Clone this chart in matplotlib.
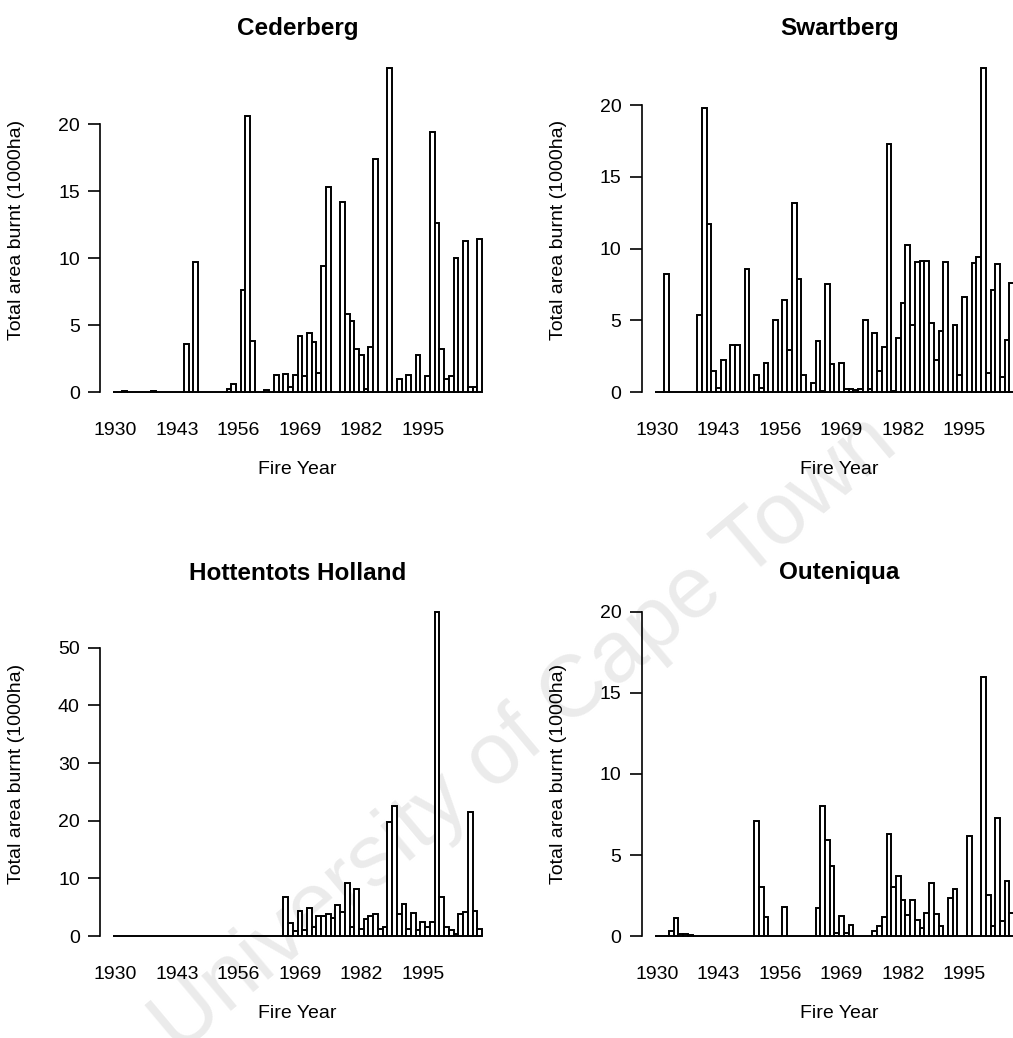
import matplotlib
matplotlib.use('Agg')
from matplotlib import pyplot as plt

plt.rcParams['font.family'] = ['Liberation Sans', 'DejaVu Sans']

years = list(range(1930, 2008))
label_years = [1930, 1943, 1956, 1969, 1982, 1995]

# area burnt per fire year, 1000 ha (1930 ... 2007)
cederberg = [
    0, 0, 0.08, 0, 0, 0, 0, 0, 0.1, 0,
    0, 0, 0, 0, 0, 3.6, 0, 9.7, 0, 0,
    0, 0, 0, 0, 0.25, 0.6, 0, 7.6, 20.6, 3.8,
    0, 0, 0.15, 0, 1.25, 0, 1.35, 0.4, 1.25, 4.2,
    1.2, 4.4, 3.7, 1.45, 9.4, 15.3, 0, 0, 14.2, 5.8,
    5.3, 3.2, 2.75, 0.2, 3.4, 17.4, 0, 0, 24.2, 0,
    0.95, 0, 1.3, 0, 2.8, 0, 1.2, 19.4, 12.6, 3.2,
    0.95, 1.2, 10.0, 0, 11.3, 0.35, 0.35, 11.4]

swartberg = [
    0, 0, 8.2, 0, 0, 0, 0, 0, 0, 5.4,
    19.8, 11.7, 1.5, 0.25, 2.25, 0, 3.25, 3.3, 0, 8.6,
    0, 1.2, 0.25, 2.0, 0, 5.0, 0, 6.4, 2.9, 13.2,
    7.85, 1.2, 0, 0.65, 3.55, 0.1, 7.5, 1.95, 0, 2.0,
    0.2, 0.2, 0.15, 0.2, 5.0, 0.2, 4.1, 1.5, 3.15, 17.3,
    0.1, 3.8, 6.2, 10.25, 4.65, 9.1, 9.15, 9.15, 4.8, 2.25,
    4.25, 9.05, 0, 4.65, 1.2, 6.6, 0, 9.0, 9.4, 22.6,
    1.3, 7.1, 8.9, 1.05, 3.65, 7.6, 0, 0]

hottentots = [
    0, 0, 0, 0, 0, 0, 0, 0, 0, 0,
    0, 0, 0, 0, 0, 0, 0, 0, 0, 0,
    0, 0, 0, 0, 0, 0, 0, 0, 0, 0,
    0, 0, 0, 0, 0, 0, 6.8, 2.3, 0.9, 4.4,
    1.0, 4.8, 1.6, 3.5, 3.4, 3.9, 3.2, 5.4, 4.1, 9.2,
    1.5, 8.1, 1.2, 3.0, 3.5, 3.8, 1.3, 1.5, 19.7, 22.6,
    3.8, 5.5, 1.3, 4.0, 1.0, 2.4, 1.5, 2.5, 56.2, 6.8,
    1.5, 1.0, 0.3, 3.9, 4.2, 21.5, 4.4, 1.2]

outeniqua = [
    0, 0, 0, 0.3, 1.1, 0.1, 0.1, 0.05, 0, 0,
    0, 0, 0, 0, 0, 0, 0, 0, 0, 0,
    0, 7.1, 3.0, 1.2, 0, 0, 0, 1.8, 0, 0,
    0, 0, 0, 0, 1.7, 8.0, 5.9, 4.3, 0.2, 1.25,
    0.2, 0.7, 0, 0, 0, 0, 0.3, 0.6, 1.2, 6.3,
    3.0, 3.7, 2.25, 1.3, 2.25, 1.0, 0.5, 1.4, 3.3, 1.35,
    0.6, 0, 2.35, 2.9, 0, 0, 6.2, 0, 0, 16.0,
    2.55, 0.6, 7.3, 0.9, 3.4, 1.4, 0, 0]

W, H = 1013., 1038.
fig = plt.figure(figsize=(W / 100, H / 100), dpi=100)

# watermark of the scanned page (runs off the bottom edge, as on the scan)
fig.text(525 / W, 1 - 735 / H, 'University of Cape Town', rotation=40,
         fontsize=63, color='#ebebeb', ha='center', va='center', zorder=-1)


def panel(x0, ybot, title, vals, yticks, ytop=None):
    ax = fig.add_axes([x0 / W, (H - ybot) / H, 395 / W, 350 / H])
    ax.set_facecolor('none')
    ax.bar(years, vals, width=1.0, color='white', edgecolor='black', linewidth=1.4)
    ax.set_xlim(years[0] - 0.5 - 2.75, years[-1] + 0.5 + 2.75)
    top = ytop if ytop else max(vals)
    ax.set_ylim(-0.04 * top, 1.04 * top)

    for s in ['top', 'right', 'bottom']:
        ax.spines[s].set_visible(False)
    ax.spines['left'].set_bounds(yticks[0], yticks[-1])
    ax.spines['left'].set_linewidth(1.2)

    ax.set_xticks(label_years)
    ax.set_xticklabels([str(y) for y in label_years])
    ax.set_yticks(yticks)
    ax.tick_params(axis='x', length=0, pad=12, labelsize=14)
    ax.tick_params(axis='y', length=8.5, width=1.2, pad=6, labelsize=14)

    ax.set_ylabel('Total area burnt (1000ha)', fontsize=14)
    ax.yaxis.set_label_coords(-0.19, 0.5)
    ax.text(0.5, -65 / 350, 'Fire Year', transform=ax.transAxes,
            ha='center', va='center', fontsize=14)
    ax.text(0.5, 1 + 26 / 350, title, transform=ax.transAxes,
            ha='center', va='center', fontsize=17.5, fontweight='bold')
    return ax


panel(100, 405, 'Cederberg', cederberg, [0, 5, 10, 15, 20])
panel(641.7, 405, 'Swartberg', swartberg, [0, 5, 10, 15, 20])
panel(100, 949, 'Hottentots Holland', hottentots, [0, 10, 20, 30, 40, 50])
panel(641.7, 949, 'Outeniqua', outeniqua, [0, 5, 10, 15, 20], ytop=20)

plt.savefig('out.png', dpi=100)
